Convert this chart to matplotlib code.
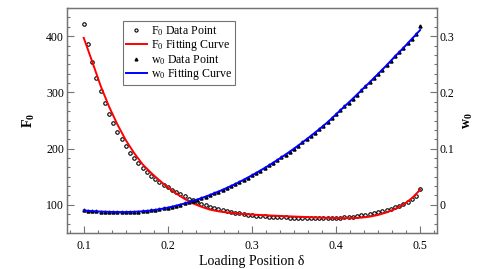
import matplotlib
matplotlib.use("Agg")
import matplotlib.pyplot as plt
from matplotlib.ticker import AutoMinorLocator, MultipleLocator

plt.rcParams['font.family'] = ['Liberation Serif', 'DejaVu Serif']

# loading position of the sampled points (step 0.005)
delta_pts = [round(0.1 + 0.005 * i, 3) for i in range(81)]
# positions of the fitting curves (step 0.01)
delta_fit = [round(0.1 + 0.01 * i, 2) for i in range(41)]

F0_points = [422, 386, 354, 326, 303, 281, 262, 246, 230, 217,
             205, 193, 183, 174, 166, 159, 152, 146, 141, 136,
             131, 127, 123, 119, 115, 111, 108, 105, 102, 99.5,
             97, 94.5, 92.5, 90.7, 89, 87.5, 86, 84.7, 83.5, 82.4,
             81.5, 80.7, 80, 79.5, 79, 78.6, 78.2, 77.8, 77.5, 77.2,
             77, 76.7, 76.5, 76.3, 76.2, 76.1, 76, 76, 76, 76.1,
             76.3, 76.8, 77.5, 78.3, 79.2, 80.2, 81.3, 82.6, 84, 85.5,
             87.2, 89, 91, 93.2, 95.7, 98.5, 101.5, 105, 110, 116, 128]

F0_fit = [397, 355, 312, 275, 243, 215, 192, 172, 157, 143.5,
          131, 120, 110.5, 102.5, 96.5, 91.5, 88.5, 86.5, 85, 83.8,
          82.8, 82, 81.2, 80.5, 79.8, 79.2, 78.6, 78, 77.4, 76.9,
          76.5, 76.3, 76.4, 77.2, 79, 82, 86.5, 92.5, 100.5, 111.5, 127]

w0_points = [-0.0100, -0.0106, -0.0112, -0.0116, -0.0120, -0.0123, -0.0125, -0.0127, -0.0128, -0.0128,
             -0.0128, -0.0126, -0.0124, -0.0120, -0.0115, -0.0108, -0.0100, -0.0090, -0.0078, -0.0064,
             -0.0050, -0.0033, -0.0015, 0.0005, 0.0025, 0.0047, 0.0070, 0.0095, 0.0120, 0.0147,
             0.0175, 0.0205, 0.0235, 0.0267, 0.0300, 0.0335, 0.0370, 0.0407, 0.0445, 0.0485,
             0.0525, 0.0567, 0.0610, 0.0655, 0.0700, 0.0747, 0.0795, 0.0845, 0.0895, 0.0947,
             0.1000, 0.1055, 0.1110, 0.1167, 0.1225, 0.1285, 0.1345, 0.1407, 0.1470, 0.1540,
             0.1610, 0.1680, 0.1750, 0.1820, 0.1890, 0.1962, 0.2035, 0.2107, 0.2180, 0.2255,
             0.2330, 0.2405, 0.2480, 0.2560, 0.2640, 0.2715, 0.2790, 0.2870, 0.2950, 0.3030, 0.3180]

w0_fit = [-0.0100, -0.0112, -0.0120, -0.0125, -0.0128, -0.0128, -0.0124, -0.0115, -0.0100, -0.0078,
          -0.0050, -0.0015, 0.0025, 0.0070, 0.0120, 0.0175, 0.0235, 0.0300, 0.0370, 0.0445,
          0.0525, 0.0610, 0.0700, 0.0795, 0.0895, 0.1000, 0.1110, 0.1225, 0.1345, 0.1470,
          0.1610, 0.1750, 0.1890, 0.2035, 0.2180, 0.2330, 0.2480, 0.2640, 0.2790, 0.2950, 0.3110]

spine_col = '0.45'

fig = plt.figure(figsize=(4.85, 2.69), dpi=100)
ax = fig.add_axes([0.138, 0.134, 0.763, 0.836])
ax2 = ax.twinx()

p1, = ax.plot(delta_pts, F0_points, 'o', ms=2.5, mfc='none', mec='black', mew=0.8,
              label=r'$\mathregular{F_0}$ Data Point')
l1, = ax.plot(delta_fit, F0_fit, color='red', lw=1.4, label=r'$\mathregular{F_0}$ Fitting Curve')
p2, = ax2.plot(delta_pts, w0_points, '^', ms=2.2, color='black',
               label=r'$\mathregular{w_0}$ Data Point')
l2, = ax2.plot(delta_fit, w0_fit, color='blue', lw=1.4, label=r'$\mathregular{w_0}$ Fitting Curve')

ax.set_xlim(0.08, 0.52)
ax.set_ylim(50, 450)
ax2.set_ylim(-0.05, 0.35)

ax.xaxis.set_major_locator(MultipleLocator(0.1))
ax.xaxis.set_minor_locator(AutoMinorLocator(6))
ax.yaxis.set_major_locator(MultipleLocator(100))
ax.yaxis.set_minor_locator(AutoMinorLocator(6))
ax2.yaxis.set_major_locator(MultipleLocator(0.1))
ax2.yaxis.set_minor_locator(AutoMinorLocator(6))
ax2.set_yticks([0, 0.1, 0.2, 0.3])
ax2.set_yticklabels(['0', '0.1', '0.2', '0.3'])

for a in (ax, ax2):
    for s in a.spines.values():
        s.set_color(spine_col)
        s.set_linewidth(0.9)
    a.tick_params(which='both', direction='in', colors=spine_col, labelcolor='black',
                  labelsize=8.5, width=0.8)
    a.tick_params(which='major', length=5)
    a.tick_params(which='minor', length=2.5)
ax.tick_params(axis='x', top=False, pad=5)
ax.tick_params(axis='y', right=False, pad=2)
ax2.tick_params(axis='y', left=False, pad=2)

ax.set_xlabel(u'Loading Position \u03b4', fontsize=10, labelpad=2)
ax.set_ylabel(r'$\mathregular{F_0}$', fontsize=10, fontweight='bold', labelpad=7)
ax2.set_ylabel(r'$\mathregular{w_0}$', fontsize=10, fontweight='bold', labelpad=5, rotation=90)

leg = ax.legend(handles=[p1, l1, p2, l2], loc='upper left', bbox_to_anchor=(0.151, 0.942),
                borderaxespad=0, fancybox=False, framealpha=1, fontsize=8.6,
                handlelength=1.75, handletextpad=0.35, borderpad=0.25, labelspacing=0.0,
                markerscale=0.9)
leg.get_frame().set_edgecolor(spine_col)
leg.get_frame().set_linewidth(0.8)

fig.savefig('out.png', dpi=100)
